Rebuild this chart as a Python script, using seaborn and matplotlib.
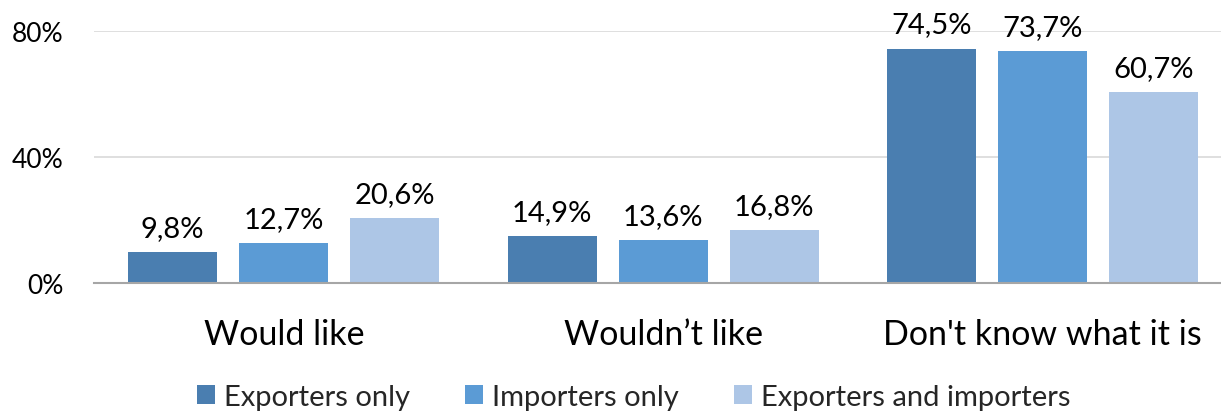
import matplotlib
matplotlib.use("Agg")
import matplotlib.pyplot as plt
from matplotlib.patches import Patch
import seaborn as sns
import pandas as pd

categories = ["Would like", "Wouldn\u2019t like", "Don't know what it is"]
series_names = ["Exporters only", "Importers only", "Exporters and importers"]
exporters_only = [9.8, 14.9, 74.5]
importers_only = [12.7, 13.6, 73.7]
exporters_and_importers = [20.6, 16.8, 60.7]
y_ticks = [0, 40, 80]
colors = ["#4A7EB0", "#5B9BD5", "#ADC6E6"]

values = [exporters_only, importers_only, exporters_and_importers]
rows = []
for name, vals in zip(series_names, values):
    for cat, v in zip(categories, vals):
        rows.append({"category": cat, "series": name, "value": v})
df = pd.DataFrame(rows)

sns.set_theme(style="white")
plt.rcParams["font.family"] = ["Lato", "DejaVu Sans"]

fig = plt.figure(figsize=(12.21, 4.14), dpi=100)
ax = fig.add_axes([94 / 1221, 1 - 284 / 414, 1138.5 / 1221, (284 - 32.3) / 414])

sns.barplot(data=df, x="category", y="value", hue="series", order=categories,
            hue_order=series_names, palette=colors, width=0.8775, gap=0.2,
            linewidth=0, saturation=1, ax=ax, legend=False, errorbar=None)

ax.set_xlim(-0.5, 2.5)
ax.set_ylim(0, 80)
ax.set_yticks(y_ticks)
ax.set_yticklabels([f"{t}%" for t in y_ticks], fontsize=19, color="black")
ax.tick_params(axis="y", length=0, pad=22)
ax.tick_params(axis="x", length=0, pad=25, labelsize=24.5, labelcolor="black")
ax.set_xlabel("")
ax.set_ylabel("")
ax.yaxis.grid(True, color="#D9D9D9", linewidth=1.2)
ax.set_axisbelow(True)
for side in ["left", "right", "top"]:
    ax.spines[side].set_visible(False)
ax.spines["bottom"].set_color("#A6A6A6")
ax.spines["bottom"].set_linewidth(1.5)
ax.spines["bottom"].set_zorder(5)

for container in ax.containers:
    for bar in container:
        h = bar.get_height()
        ax.annotate(f"{h:.1f}".replace(".", ",") + "%",
                    (bar.get_x() + bar.get_width() / 2, h),
                    xytext=(0, 8), textcoords="offset points",
                    ha="center", va="bottom", fontsize=21,
                    color="black", annotation_clip=False)

handles = [Patch(facecolor=c, edgecolor="none") for c in colors]
fig.legend(handles, series_names, loc="center", bbox_to_anchor=(0.519, 1 - 398 / 414),
           ncol=3, frameon=False, fontsize=21, handlelength=0.62, handleheight=0.62,
           handletextpad=0.3, columnspacing=1.9)

fig.savefig("out.png", dpi=100)
